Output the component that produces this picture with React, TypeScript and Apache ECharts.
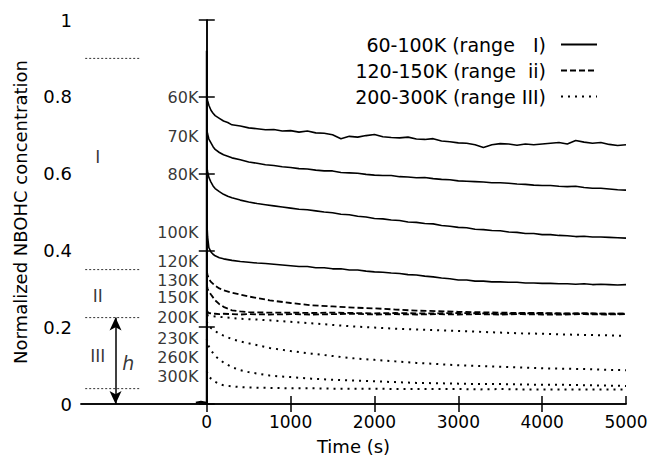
import React, { useEffect, useRef } from 'react';
import * as echarts from 'echarts';

const FONT = 'DejaVu Sans';

const LEG_I = '60-100K (range   I)';
const LEG_II = '120-150K (range  ii)';
const LEG_III = '200-300K (range III)';

const timesSolid = [
  0, 10, 25, 50, 75, 100, 150, 200, 250, 300, 400, 500, 600, 700, 800, 900, 1000,
  1100, 1200, 1300, 1400, 1500, 1600, 1700, 1800, 1900, 2000,
  2100, 2200, 2300, 2400, 2500, 2600, 2700, 2800, 2900, 3000,
  3100, 3200, 3300, 3400, 3500, 3600, 3700, 3800, 3900, 4000,
  4100, 4200, 4300, 4400, 4500, 4600, 4700, 4800, 4900, 5000,
];

const k60 = [
  0.800, 0.790, 0.778, 0.765, 0.757, 0.751, 0.744, 0.737, 0.733, 0.727, 0.724, 0.719, 0.717, 0.714, 0.715, 0.711, 0.712,
  0.708, 0.711, 0.706, 0.705, 0.701, 0.691, 0.697, 0.695, 0.699, 0.702,
  0.696, 0.694, 0.693, 0.695, 0.690, 0.689, 0.691, 0.685, 0.683, 0.680,
  0.679, 0.675, 0.668, 0.675, 0.678, 0.677, 0.674, 0.677, 0.675, 0.677,
  0.679, 0.681, 0.677, 0.686, 0.682, 0.679, 0.681, 0.676, 0.673, 0.675,
];
const k70 = [
  0.715, 0.703, 0.690, 0.680, 0.670, 0.663, 0.655, 0.649, 0.645, 0.641, 0.636, 0.630, 0.627, 0.623, 0.621, 0.618, 0.616,
  0.613, 0.612, 0.609, 0.607, 0.607, 0.603, 0.602, 0.601, 0.598, 0.596,
  0.595, 0.595, 0.592, 0.591, 0.589, 0.590, 0.587, 0.585, 0.584, 0.581,
  0.580, 0.579, 0.578, 0.576, 0.576, 0.575, 0.573, 0.572, 0.570, 0.569,
  0.569, 0.567, 0.566, 0.567, 0.564, 0.562, 0.562, 0.560, 0.558, 0.557,
];
const k80 = [
  0.619, 0.605, 0.590, 0.578, 0.568, 0.561, 0.553, 0.546, 0.541, 0.537, 0.531, 0.526, 0.522, 0.519, 0.516, 0.513, 0.510,
  0.507, 0.506, 0.503, 0.500, 0.498, 0.494, 0.493, 0.489, 0.487, 0.483,
  0.482, 0.479, 0.478, 0.474, 0.473, 0.470, 0.469, 0.465, 0.463, 0.460,
  0.459, 0.455, 0.454, 0.452, 0.451, 0.448, 0.447, 0.444, 0.444, 0.441,
  0.441, 0.439, 0.438, 0.436, 0.437, 0.435, 0.435, 0.434, 0.433, 0.432,
];
const k100 = [
  0.480, 0.435, 0.407, 0.396, 0.390, 0.386, 0.381, 0.378, 0.376, 0.374, 0.371, 0.369, 0.367, 0.366, 0.364, 0.362, 0.360,
  0.358, 0.358, 0.355, 0.355, 0.352, 0.352, 0.349, 0.349, 0.346, 0.344,
  0.343, 0.341, 0.340, 0.337, 0.336, 0.333, 0.331, 0.328, 0.326, 0.323,
  0.323, 0.320, 0.320, 0.318, 0.318, 0.317, 0.317, 0.315, 0.315, 0.314,
  0.314, 0.313, 0.313, 0.312, 0.313, 0.311, 0.312, 0.311, 0.310, 0.311,
];

const timesDash = [
  0, 10, 25, 50, 100, 150, 200, 300, 400, 500, 750, 1000, 1250, 1500, 1750, 2000,
  2250, 2500, 2750, 3000, 3250, 3500, 3750, 4000, 4250, 4500, 4750, 5000,
];
const k120 = [0.345, 0.336, 0.326, 0.318, 0.308, 0.301, 0.296, 0.290, 0.285, 0.280, 0.270, 0.263, 0.257, 0.254, 0.251, 0.249, 0.246, 0.243, 0.242, 0.240, 0.239, 0.238, 0.237, 0.237, 0.236, 0.236, 0.235, 0.235];
const k130 = [0.310, 0.300, 0.293, 0.285, 0.270, 0.260, 0.253, 0.244, 0.241, 0.239, 0.238, 0.238, 0.237, 0.238, 0.237, 0.236, 0.237, 0.236, 0.236, 0.237, 0.236, 0.235, 0.236, 0.236, 0.235, 0.236, 0.235, 0.235];
const k150 = [0.245, 0.240, 0.237, 0.236, 0.235, 0.234, 0.235, 0.234, 0.233, 0.234, 0.233, 0.234, 0.233, 0.234, 0.235, 0.233, 0.234, 0.233, 0.234, 0.233, 0.234, 0.233, 0.234, 0.233, 0.233, 0.234, 0.233, 0.234];
const k200 = [0.232, 0.231, 0.230, 0.229, 0.228, 0.227, 0.226, 0.224, 0.222, 0.221, 0.218, 0.214, 0.210, 0.206, 0.202, 0.199, 0.196, 0.194, 0.192, 0.190, 0.188, 0.186, 0.184, 0.183, 0.181, 0.180, 0.179, 0.177];
const k230 = [0.215, 0.208, 0.203, 0.198, 0.190, 0.183, 0.178, 0.169, 0.163, 0.158, 0.146, 0.138, 0.131, 0.125, 0.119, 0.115, 0.111, 0.107, 0.104, 0.101, 0.099, 0.097, 0.095, 0.093, 0.092, 0.091, 0.089, 0.088];
const k260 = [0.170, 0.160, 0.150, 0.140, 0.125, 0.116, 0.108, 0.096, 0.088, 0.083, 0.074, 0.070, 0.066, 0.063, 0.061, 0.059, 0.057, 0.055, 0.054, 0.053, 0.052, 0.052, 0.051, 0.050, 0.050, 0.049, 0.048, 0.047];
const k300 = [0.085, 0.078, 0.072, 0.066, 0.058, 0.052, 0.049, 0.046, 0.044, 0.043, 0.042, 0.041, 0.041, 0.040, 0.040, 0.040, 0.039, 0.039, 0.039, 0.039, 0.038, 0.039, 0.038, 0.038, 0.038, 0.038, 0.038, 0.038];

// rise at t = 0 (irradiation start)
const spikeT = [-130, -70, -20, 0, 0];
const spikeV = [0.003, 0.006, 0.004, 0, 0.92];

const tempLabels = ['60K', '70K', '80K', '100K', '120K', '130K', '150K', '200K', '230K', '260K', '300K'];
const tempLabelY = [0.798, 0.697, 0.598, 0.447, 0.371, 0.322, 0.277, 0.225, 0.171, 0.121, 0.072];
const tempLabelX = -100;

const rangeLevels = [0.9, 0.35, 0.225, 0.04];
const rangeSpan = [-1450, -790];
const romanText = ['I', 'II', 'III'];
const romanY = [0.642, 0.28, 0.126];
const romanX = -1300;
const hPos = [-935, 0.108];
const arrowX = -1088;
const arrowEnds = [0.225, 0];

const xTicks = [0, 1000, 2000, 3000, 4000, 5000];
const xTopTicks = [0, 1000, 2000, 3000, 4000];

const zip = (ts: number[], vs: number[]) => ts.map((t, i) => [t, vs[i]]);

export default function App() {
  const ref = useRef<HTMLDivElement>(null);
  useEffect(() => {
    const chart = echarts.init(ref.current!, null, { renderer: 'svg' });
    const txt = { color: '#000', fontFamily: FONT, fontSize: 17 };
    const frame = { color: '#000', width: 1.5 };

    const lineSeries = (name: string, ts: number[], vs: number[], type: any, width: number) => ({
      type: 'line',
      name,
      data: zip(ts, vs),
      symbol: 'none',
      showSymbol: false,
      silent: true,
      itemStyle: { color: '#000' },
      lineStyle: { color: '#000', width, type },
    });

    const series: any[] = [
      ...[k60, k70, k80, k100].map((v) => lineSeries(LEG_I, timesSolid, v, 'solid', 1.6)),
      ...[k120, k130, k150].map((v) => lineSeries(LEG_II, timesDash, v, [6, 3], 1.8)),
      ...[k200, k230, k260, k300].map((v) => lineSeries(LEG_III, timesDash, v, [2, 5], 2)),
      {
        type: 'line',
        name: 'spike',
        data: zip(spikeT, spikeV),
        symbol: 'none',
        silent: true,
        lineStyle: { color: '#000', width: 2 },
      },
      ...rangeLevels.map((lv) => ({
        type: 'line',
        name: 'range',
        data: rangeSpan.map((x) => [x, lv]),
        symbol: 'none',
        silent: true,
        lineStyle: { color: '#333', width: 1, type: [2, 2] },
      })),
      {
        type: 'scatter',
        name: 'labels',
        symbolSize: 0,
        silent: true,
        data: tempLabels.map((t, i) => ({
          value: [tempLabelX, tempLabelY[i]],
          label: { show: true, position: 'left', distance: 0, formatter: t, ...txt, fontSize: 16 },
        })),
      },
      {
        type: 'scatter',
        name: 'ranges',
        symbolSize: 0,
        silent: true,
        data: [
          ...romanText.map((t, i) => ({
            value: [romanX, romanY[i]],
            label: { show: true, position: 'inside', formatter: t, ...txt },
          })),
          {
            value: hPos,
            label: { show: true, position: 'inside', formatter: 'h', ...txt, fontStyle: 'italic', fontSize: 19 },
          },
        ],
        markLine: {
          silent: true,
          symbol: ['arrow', 'arrow'],
          symbolSize: [9, 13],
          label: { show: false },
          lineStyle: { color: '#000', width: 1.5, type: 'solid' },
          data: [[{ coord: [arrowX, arrowEnds[0]] }, { coord: [arrowX, arrowEnds[1]] }]],
        },
      },
    ];

    chart.setOption({
      animation: false,
      backgroundColor: '#fff',
      grid: { left: 81, right: 28, top: 20, bottom: 55.5 },
      legend: {
        data: [LEG_I, LEG_II, LEG_III],
        orient: 'vertical',
        align: 'right',
        right: 56,
        top: 35,
        padding: 0,
        itemWidth: 36,
        itemHeight: 14,
        itemGap: 7,
        selectedMode: false,
        itemStyle: { opacity: 0 },
        textStyle: { ...txt, fontSize: 19, padding: [0, 10, 0, 0] },
      },
      xAxis: [
        {
          type: 'value',
          min: -1500,
          max: 5000,
          position: 'bottom',
          name: 'Time (s)',
          nameLocation: 'middle',
          nameGap: 33,
          nameTextStyle: { ...txt, fontSize: 18 },
          axisLine: { lineStyle: frame },
          axisTick: { inside: true, length: 8, customValues: xTicks, lineStyle: frame },
          axisLabel: { customValues: xTicks, margin: 9, ...txt, formatter: (v: number) => String(v) },
          splitLine: { show: false },
        },
        {
          type: 'value',
          min: -1500,
          max: 5000,
          position: 'top',
          axisLine: { lineStyle: frame },
          axisTick: { inside: true, length: 8, customValues: xTopTicks, lineStyle: frame },
          axisLabel: { show: false },
          splitLine: { show: false },
        },
      ],
      yAxis: [
        {
          type: 'value',
          min: 0,
          max: 1,
          interval: 0.2,
          position: 'left',
          name: 'Normalized NBOHC concentration',
          nameLocation: 'middle',
          nameGap: 52,
          nameTextStyle: { ...txt, fontSize: 18 },
          axisLine: { lineStyle: frame },
          axisTick: { inside: true, length: 8, lineStyle: frame },
          axisLabel: { margin: 9, ...txt, fontSize: 18 },
          splitLine: { show: false },
        },
        {
          type: 'value',
          min: 0,
          max: 1,
          interval: 0.2,
          position: 'right',
          axisLine: { lineStyle: frame },
          axisTick: { inside: true, length: 8, lineStyle: frame },
          axisLabel: { show: false },
          splitLine: { show: false },
        },
      ],
      series,
    });
    return () => chart.dispose();
  }, []);
  return (
    <div
      ref={ref}
      style={{ position: 'fixed', left: 0, top: 0, width: 654, height: 460, background: '#fff' }}
    />
  );
}
